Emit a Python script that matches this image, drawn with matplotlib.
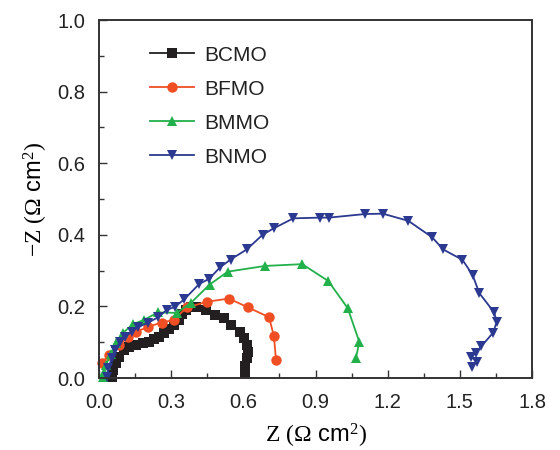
import matplotlib
matplotlib.use("Agg")
import matplotlib.pyplot as plt
from matplotlib.ticker import MultipleLocator

plt.rcParams['font.family'] = ['Liberation Sans', 'DejaVu Sans']
plt.rcParams['mathtext.fontset'] = 'custom'
plt.rcParams['mathtext.rm'] = 'Liberation Serif'
plt.rcParams['mathtext.it'] = 'Liberation Serif'

series_names = ["BCMO", "BFMO", "BMMO", "BNMO"]

bcmo_x = [0.053, 0.060, 0.071, 0.084, 0.105, 0.126, 0.154, 0.182, 0.209, 0.230, 0.251, 0.271,
          0.292, 0.313, 0.331, 0.345, 0.362, 0.382, 0.402, 0.443, 0.482, 0.521, 0.549, 0.586,
          0.604, 0.614, 0.618, 0.615, 0.607, 0.607]
bcmo_y = [0.004, 0.022, 0.041, 0.060, 0.078, 0.087, 0.092, 0.097, 0.101, 0.108, 0.115, 0.127,
          0.136, 0.148, 0.162, 0.179, 0.190, 0.197, 0.199, 0.190, 0.176, 0.167, 0.148, 0.129,
          0.111, 0.092, 0.073, 0.055, 0.034, 0.013]

bfmo_x = [0.012, 0.040, 0.085, 0.120, 0.154, 0.205, 0.260, 0.310, 0.365, 0.450, 0.540, 0.620,
          0.707, 0.727, 0.736]
bfmo_y = [0.041, 0.065, 0.092, 0.115, 0.129, 0.143, 0.155, 0.162, 0.197, 0.213, 0.222, 0.197,
          0.170, 0.117, 0.050]

bmmo_x = [0.018, 0.022, 0.029, 0.050, 0.071, 0.098, 0.140, 0.186, 0.244, 0.323, 0.382, 0.460,
          0.535, 0.690, 0.845, 0.953, 1.034, 1.082, 1.068]
bmmo_y = [0.004, 0.018, 0.036, 0.068, 0.097, 0.125, 0.150, 0.162, 0.183, 0.182, 0.210, 0.261,
          0.297, 0.313, 0.318, 0.271, 0.195, 0.101, 0.055]

bnmo_x = [0.032, 0.039, 0.053, 0.066, 0.087, 0.108, 0.136, 0.163, 0.205, 0.247, 0.281, 0.316,
          0.355, 0.417, 0.458, 0.503, 0.547, 0.614, 0.680, 0.726, 0.808, 0.919, 0.956, 1.106,
          1.180, 1.286, 1.385, 1.431, 1.511, 1.553, 1.581, 1.643, 1.653, 1.639, 1.590, 1.567,
          1.545, 1.570, 1.549]
bnmo_y = [0.004, 0.027, 0.055, 0.078, 0.101, 0.115, 0.129, 0.142, 0.155, 0.170, 0.190, 0.199,
          0.220, 0.263, 0.277, 0.309, 0.331, 0.359, 0.400, 0.418, 0.446, 0.448, 0.448, 0.458,
          0.459, 0.439, 0.393, 0.359, 0.330, 0.288, 0.237, 0.183, 0.157, 0.127, 0.089, 0.071,
          0.060, 0.046, 0.032]

xticks = [0.0, 0.3, 0.6, 0.9, 1.2, 1.5, 1.8]
yticks = [0.0, 0.2, 0.4, 0.6, 0.8, 1.0]

colors = ["#231F20", "#F04E23", "#22B04B", "#2B3990"]
markers = ["s", "o", "^", "v"]

fig = plt.figure(figsize=(5.6, 4.5), dpi=100)
ax = fig.add_axes([99/560, 1-378/450, (532-99)/560, (378-20)/450])

data = [(bcmo_x, bcmo_y), (bfmo_x, bfmo_y), (bmmo_x, bmmo_y), (bnmo_x, bnmo_y)]
for (xs, ys), name, c, m in zip(data, series_names, colors, markers):
    ax.plot(xs, ys, color=c, marker=m, markersize=7.5, linewidth=1.3, label=name,
            markeredgewidth=0, clip_on=False)

ax.set_xlim(0, 1.8)
ax.set_ylim(0, 1.0)
ax.set_xticks(xticks)
ax.set_yticks(yticks)
ax.set_xticklabels([f"{v:.1f}" for v in xticks])
ax.set_yticklabels([f"{v:.1f}" for v in yticks])
ax.xaxis.set_minor_locator(MultipleLocator(0.15))
ax.yaxis.set_minor_locator(MultipleLocator(0.1))
ax.tick_params(which='both', direction='in', top=False, right=False, labelsize=14.5,
               color='#333333', width=1.0, labelcolor='#222222')
ax.tick_params(axis='x', which='major', length=6, pad=11)
ax.tick_params(axis='y', which='major', length=6, pad=10)
ax.tick_params(which='minor', length=3.5)
for s in ax.spines.values():
    s.set_linewidth(1.4)
    s.set_color('#333333')

ax.set_xlabel(r"$\mathrm{Z\ (\Omega}$ cm$^{2}$$\mathrm{)}$", fontsize=17, labelpad=7)
ax.set_ylabel(r"$\mathrm{-Z\ (\Omega}$ cm$^{2}$$\mathrm{)}$", fontsize=17, labelpad=5)

leg = ax.legend(loc='upper left', bbox_to_anchor=(0.118, 0.928), frameon=False, fontsize=15,
                handlelength=2.1, labelspacing=0.72, handletextpad=0.5, borderpad=0,
                borderaxespad=0)
for t in leg.get_texts():
    t.set_color('#222222')

fig.savefig("out.png", dpi=100)
